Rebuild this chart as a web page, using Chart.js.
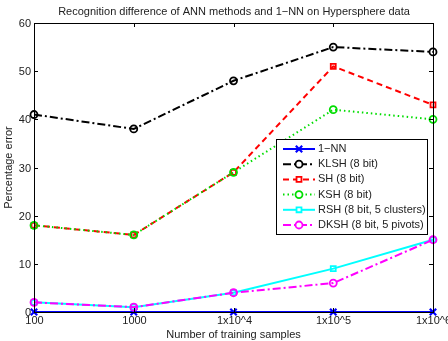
<!DOCTYPE html>
<html>
<head>
<meta charset="utf-8">
<script src="https://cdn.jsdelivr.net/npm/chart.js@4/dist/chart.umd.min.js"></script>
<style>
  body { margin: 0; background: #fff; }
  #wrap { width: 448px; height: 341px; }
</style>
</head>
<body>
<div id="wrap"><canvas id="errChart" width="448" height="341"></canvas></div>
<script>
// Data
const sampleLabels = ["100", "1000", "1x10^4", "1x10^5", "1x10^6"];
const yTicks = [0, 10, 20, 30, 40, 50, 60];

const nnErr = [0, 0, 0, 0, 0];
const klshErr = [41, 38, 48, 55, 54];
const shErr = [18, 16, 29, 51, 43];
const kshErr = [18, 16, 29, 42, 40];
const rshErr = [2, 1, 4, 9, 15];
const dkshErr = [2, 1, 4, 6, 15];

const seriesNames = ["1\u2212NN", "KLSH (8 bit)", "SH (8 bit)", "KSH (8 bit)", "RSH (8 bit, 5 clusters)", "DKSH (8 bit, 5 pivots)"];

const FONT = "11px 'Liberation Sans', Arial, sans-serif";
const dashDot = [8, 3, 2, 3];

function series(i, data, color, shape, dash) {
    const cross = shape === "crossRot";
    return {
        label: seriesNames[i],
        data: data,
        borderColor: color,
        backgroundColor: "rgba(0,0,0,0)",
        borderWidth: 2,
        borderDash: dash,
        pointStyle: shape,
        pointRadius: cross ? 4.5 : 3.5,
        pointBorderWidth: cross ? 2.2 : 1.8,
        pointBorderColor: color,
        pointBackgroundColor: "rgba(0,0,0,0)",
        tension: 0,
        order: 5 - i,
    };
}

// Axes box, inside tick marks, tick labels, titles and legend (MATLAB look)
const matlabFrame = {
    id: "matlabFrame",
    afterDatasetsDraw(chart) {
        const ctx = chart.ctx;
        const a = chart.chartArea;
        const xs = chart.scales.x;
        const ys = chart.scales.y;
        ctx.save();
        ctx.strokeStyle = "#000";
        ctx.lineWidth = 1;
        ctx.setLineDash([]);
        ctx.strokeRect(a.left + 0.5, a.top + 0.5, a.right - a.left, a.bottom - a.top);

        ctx.font = FONT;
        ctx.fillStyle = "#222";

        // y ticks
        ctx.textAlign = "right";
        ctx.textBaseline = "middle";
        yTicks.forEach(v => {
            const y = Math.round(ys.getPixelForValue(v)) + 0.5;
            ctx.beginPath();
            ctx.moveTo(a.left, y); ctx.lineTo(a.left + 4, y);
            ctx.moveTo(a.right, y); ctx.lineTo(a.right - 4, y);
            ctx.stroke();
            ctx.fillText(String(v), a.left - 3, y);
        });

        // x ticks
        ctx.textAlign = "center";
        ctx.textBaseline = "top";
        sampleLabels.forEach((lab, i) => {
            const x = Math.round(xs.getPixelForValue(i)) + 0.5;
            ctx.beginPath();
            ctx.moveTo(x, a.bottom); ctx.lineTo(x, a.bottom - 4);
            ctx.moveTo(x, a.top); ctx.lineTo(x, a.top + 4);
            ctx.stroke();
            ctx.fillText(lab, x, a.bottom + 3);
        });

        // titles
        ctx.fillText("Number of training samples", (a.left + a.right) / 2, a.bottom + 17);
        ctx.textBaseline = "middle";
        ctx.fillText("Recognition difference of ANN methods and 1\u2212NN on Hypersphere data", 234, 12);
        ctx.save();
        ctx.translate(9, (a.top + a.bottom) / 2);
        ctx.rotate(-Math.PI / 2);
        ctx.fillText("Percentage error", 0, 0);
        ctx.restore();

        // legend
        const lx = 276, ly = 139, lw = 151, lh = 95;
        ctx.fillStyle = "#fff";
        ctx.fillRect(lx, ly, lw, lh);
        ctx.strokeRect(lx + 0.5, ly + 0.5, lw, lh);
        ctx.textAlign = "left";
        chart.data.datasets.forEach((ds, i) => {
            const y = ly + 10 + i * 15.2;
            ctx.strokeStyle = ds.borderColor;
            ctx.lineWidth = 2;
            ctx.setLineDash(ds.borderDash || []);
            ctx.beginPath();
            ctx.moveTo(lx + 7, y); ctx.lineTo(lx + 39, y);
            ctx.stroke();
            ctx.setLineDash([]);
            ctx.lineWidth = ds.pointBorderWidth;
            ctx.fillStyle = "#fff";
            Chart.helpers.drawPoint(ctx, {
                pointStyle: ds.pointStyle, radius: ds.pointRadius, rotation: 0, borderWidth: ds.pointBorderWidth
            }, lx + 23, y);
            ctx.fillStyle = "#222";
            ctx.fillText(ds.label, lx + 42, y);
        });
        ctx.restore();
    }
};

const ctx = document.getElementById("errChart").getContext("2d");
new Chart(ctx, {
    type: "line",
    data: {
        labels: sampleLabels,
        datasets: [
            series(0, nnErr, "#0000ff", "crossRot", []),
            series(1, klshErr, "#000000", "circle", dashDot),
            series(2, shErr, "#ff0000", "rect", [6, 4]),
            series(3, kshErr, "#00dd00", "circle", [1.5, 3]),
            series(4, rshErr, "#00ffff", "rect", []),
            series(5, dkshErr, "#ff00ff", "circle", dashDot),
        ],
    },
    options: {
        responsive: false,
        animation: false,
        layout: { padding: { left: 34, right: 15, top: 23, bottom: 29 } },
        plugins: { legend: { display: false }, tooltip: { enabled: false } },
        scales: {
            x: { display: false, offset: false },
            y: { display: false, min: 0, max: 60 },
        },
        clip: false,
    },
    plugins: [matlabFrame],
});
</script>
</body>
</html>
